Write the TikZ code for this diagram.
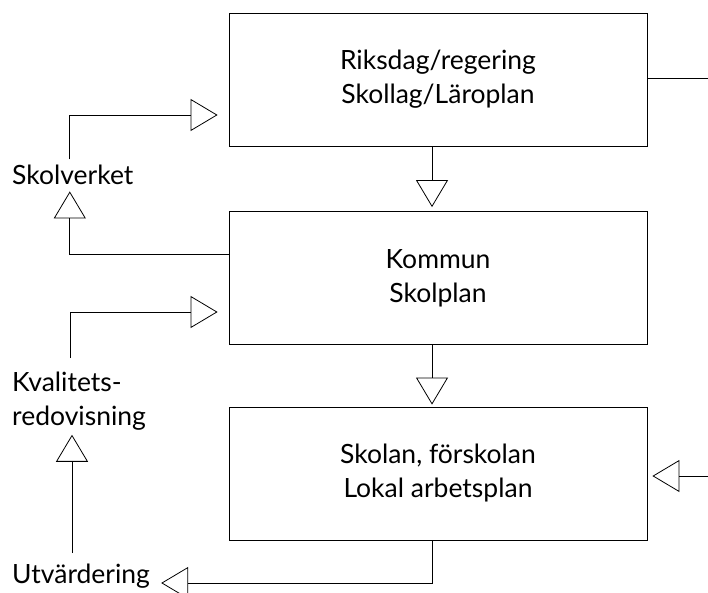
\documentclass[tikz,border=0pt]{standalone}
\usepackage{fontspec}
\setmainfont{Lato}
\usetikzlibrary{arrows.meta}
\tikzset{
  box/.style={draw, line width=0.8pt, minimum width=418pt, minimum height=133pt, inner sep=0pt, align=center, font=\fontsize{26.5}{34}\selectfont},
  lbl/.style={inner sep=0pt, align=left, font=\fontsize{26.5}{34}\selectfont},
  conn/.style={line width=0.8pt},
  tri/.style={conn, -{Triangle[open, length=27pt, width=32pt, line width=0.8pt]}},
}
\begin{document}
\begin{tikzpicture}[x=1pt, y=-1pt]
\useasboundingbox (0,0) rectangle (708,593);
\node[box] (b1) at (438,79.5) {Riksdag/regering\\Skollag/Läroplan};
\node[box] (b2) at (438,278) {Kommun\\Skolplan};
\node[box] (b3) at (438,473.5) {Skolan, förskolan\\Lokal arbetsplan};
\node[lbl, anchor=base west] (sv) at (12,185) {Skolverket};
\node[lbl, anchor=north west] (kv) at (12,372) {Kvalitets-\\redovisning};
\node[lbl, anchor=base west] (ut) at (12,583) {Utvärdering};
\coordinate (r1) at (708,78);
\coordinate (r3) at (708,476);
% top right line
\draw[conn] ([yshift=1.5pt]b1.east) -- (r1);
% down arrows
\draw[tri, shorten >=4pt] ([xshift=-6pt]b1.south) -- ([xshift=-6pt]b2.north);
\draw[tri, shorten >=2pt] ([xshift=-6pt]b2.south) -- ([xshift=-6pt]b3.north);
% Skolverket -> Riksdag
\draw[tri, shorten <=6pt, shorten >=11pt] ([xshift=-3pt]sv.north) |- ([yshift=-35.5pt]b1.west);
% Kommun -> Skolverket
\draw[tri, shorten >=6pt] ([yshift=24pt]b2.west) -| ([xshift=-3pt]sv.south);
% Kvalitetsredovisning -> Kommun
\draw[tri, shorten >=11pt] ([xshift=58.7pt,yshift=14pt]kv.north west) |- ([yshift=-34pt]b2.west);
% Utvardering -> Kvalitetsredovisning
\draw[tri, shorten >=4pt] ([xshift=60pt,yshift=30pt]ut.base west) -- ([xshift=60pt]kv.south west);
% Skolan -> Utvardering
\draw[tri, shorten >=11pt] ([xshift=-6pt]b3.south) |- (ut.base east);
% right input to Skolan
\draw[tri, shorten >=5pt] (r3) -- ([yshift=-2.5pt]b3.east);
\end{tikzpicture}
\end{document}
